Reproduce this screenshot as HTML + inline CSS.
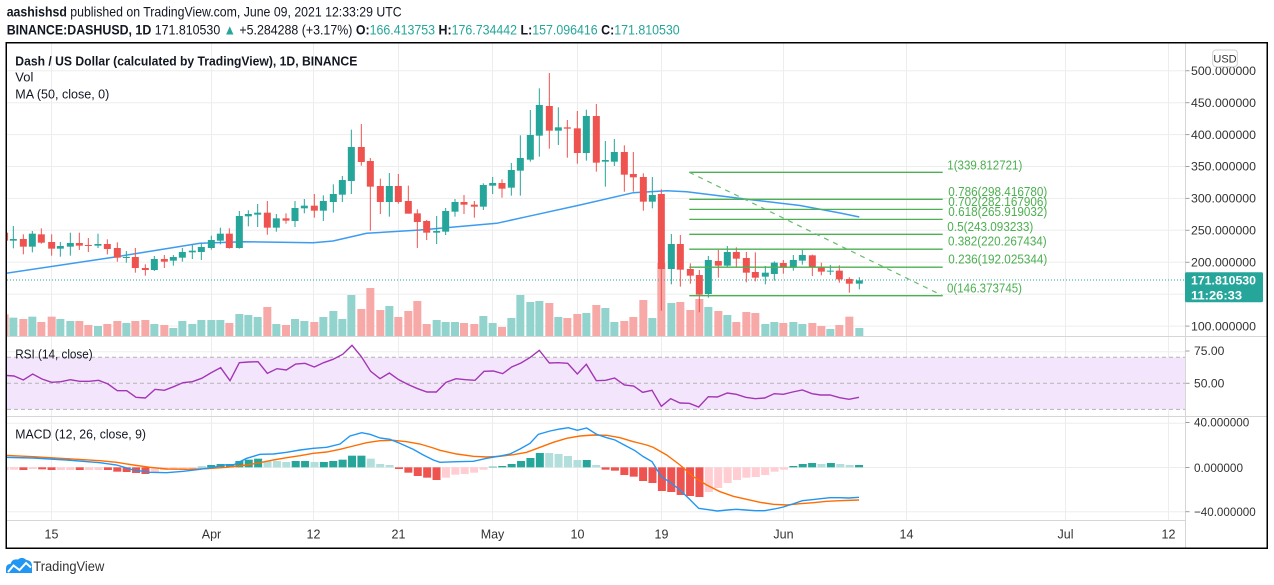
<!DOCTYPE html>
<html><head><meta charset="utf-8"><style>
html,body{margin:0;padding:0;background:#fff;}
svg{display:block;font-family:"Liberation Sans",Arial,sans-serif;}
.t{fill:#26a69a}.r{fill:#ef5350}
.vt{fill:#93d3cd}.vr{fill:#f7a9a8}
.hT{fill:#26a69a}.hL{fill:#b2dfdb}.hR{fill:#ef5350}.hP{fill:#ffcdd2}
.ax{font-size:12px;fill:#333}
.fib{font-size:12.5px;fill:#4caf50}
</style></head><body>
<svg width="1274" height="585" viewBox="0 0 1274 585" xmlns="http://www.w3.org/2000/svg">
<rect width="1274" height="585" fill="#fff"/>
<defs><clipPath id="cp"><rect x="7" y="43" width="1178" height="477.5"/></clipPath></defs>

<!-- header -->
<text x="6.7" y="16.5" font-size="14" fill="#131722" textLength="395" lengthAdjust="spacingAndGlyphs"><tspan font-weight="bold">aashishsd</tspan> published on TradingView.com, June 09, 2021 12:33:29 UTC</text>
<text x="6.7" y="34.5" font-size="14" fill="#131722" textLength="673" lengthAdjust="spacingAndGlyphs"><tspan font-weight="bold">BINANCE:DASHUSD, 1D</tspan> 171.810530 <tspan fill="#26a69a">▲</tspan> +5.284288 (+3.17%) <tspan font-weight="bold">O:</tspan><tspan fill="#26a69a">166.413753</tspan> <tspan font-weight="bold">H:</tspan><tspan fill="#26a69a">176.734442</tspan> <tspan font-weight="bold">L:</tspan><tspan fill="#26a69a">157.096416</tspan> <tspan font-weight="bold">C:</tspan><tspan fill="#26a69a">171.810530</tspan></text>

<!-- grid -->
<g stroke="#ededed" stroke-width="1">
<line x1="7" x2="1185" y1="70.75" y2="70.75"/><line x1="7" x2="1185" y1="102.7" y2="102.7"/><line x1="7" x2="1185" y1="134.6" y2="134.6"/><line x1="7" x2="1185" y1="166.5" y2="166.5"/><line x1="7" x2="1185" y1="198.4" y2="198.4"/><line x1="7" x2="1185" y1="230.3" y2="230.3"/><line x1="7" x2="1185" y1="262.3" y2="262.3"/><line x1="7" x2="1185" y1="294.2" y2="294.2"/><line x1="7" x2="1185" y1="326.1" y2="326.1"/>
<line x1="7" x2="1185" y1="351.7" y2="351.7"/>
<line x1="7" x2="1185" y1="423.3" y2="423.3"/><line x1="7" x2="1185" y1="467.5" y2="467.5"/><line x1="7" x2="1185" y1="511.7" y2="511.7"/>
<line x1="51.5" x2="51.5" y1="43" y2="520.5"/><line x1="211.5" x2="211.5" y1="43" y2="520.5"/><line x1="313.5" x2="313.5" y1="43" y2="520.5"/><line x1="398.5" x2="398.5" y1="43" y2="520.5"/><line x1="492.5" x2="492.5" y1="43" y2="520.5"/><line x1="577.5" x2="577.5" y1="43" y2="520.5"/><line x1="661.5" x2="661.5" y1="43" y2="520.5"/><line x1="783.5" x2="783.5" y1="43" y2="520.5"/><line x1="906.5" x2="906.5" y1="43" y2="520.5"/><line x1="1065.5" x2="1065.5" y1="43" y2="520.5"/><line x1="1168.5" x2="1168.5" y1="43" y2="520.5"/>
</g>

<!-- RSI band -->
<rect x="7" y="357.3" width="1178" height="52.1" fill="#f3e6fc"/>
<g stroke="#b4b4b4" stroke-width="1" stroke-dasharray="4 3">
<line x1="7" x2="1185" y1="357.3" y2="357.3"/><line x1="7" x2="1185" y1="383.3" y2="383.3"/><line x1="7" x2="1185" y1="409.4" y2="409.4"/>
</g>

<g clip-path="url(#cp)">
<!-- volume -->
<g transform="translate(0,40) scale(0.333333)">
<rect class="vr" x="1.8" y="823" width="24" height="65"/><rect class="vt" x="28" y="833" width="24" height="55"/><rect class="vr" x="58" y="837" width="24" height="51"/><rect class="vt" x="85" y="830" width="24" height="58"/><rect class="vr" x="112" y="846" width="24" height="42"/><rect class="vr" x="143" y="830" width="24" height="58"/><rect class="vt" x="169" y="837" width="24" height="51"/><rect class="vt" x="199" y="843" width="24" height="45"/><rect class="vr" x="226" y="843" width="24" height="45"/><rect class="vr" x="253" y="855" width="24" height="33"/><rect class="vt" x="282" y="858" width="24" height="30"/><rect class="vr" x="310" y="852" width="24" height="36"/><rect class="vr" x="340" y="843" width="24" height="45"/><rect class="vt" x="367" y="849" width="24" height="39"/><rect class="vr" x="394" y="843" width="24" height="45"/><rect class="vr" x="424" y="840" width="24" height="48"/><rect class="vt" x="451" y="852" width="24" height="36"/><rect class="vr" x="481" y="855" width="24" height="33"/><rect class="vt" x="508" y="864" width="24" height="24"/><rect class="vt" x="535" y="843" width="24" height="45"/><rect class="vt" x="565" y="852" width="24" height="36"/><rect class="vt" x="592" y="840" width="24" height="48"/><rect class="vt" x="622" y="840" width="24" height="48"/><rect class="vt" x="649" y="840" width="24" height="48"/><rect class="vr" x="676" y="849" width="24" height="39"/><rect class="vt" x="706" y="822" width="24" height="66"/><rect class="vt" x="733" y="825" width="24" height="63"/><rect class="vt" x="761" y="831" width="24" height="57"/><rect class="vr" x="790" y="801" width="24" height="87"/><rect class="vt" x="817" y="852" width="24" height="36"/><rect class="vr" x="846" y="855" width="24" height="33"/><rect class="vt" x="873" y="837" width="24" height="51"/><rect class="vt" x="901" y="843" width="24" height="45"/><rect class="vr" x="931" y="846" width="24" height="42"/><rect class="vt" x="958" y="831" width="24" height="57"/><rect class="vt" x="988" y="813" width="24" height="75"/><rect class="vt" x="1015" y="837" width="24" height="51"/><rect class="vt" x="1042" y="765" width="24" height="123"/><rect class="vr" x="1072" y="807" width="24" height="81"/><rect class="vr" x="1099" y="744" width="24" height="144"/><rect class="vr" x="1129" y="810" width="24" height="78"/><rect class="vt" x="1156" y="798" width="24" height="90"/><rect class="vr" x="1183" y="831" width="24" height="57"/><rect class="vr" x="1213" y="813" width="24" height="75"/><rect class="vr" x="1240" y="783" width="24" height="105"/>
</g>
<g transform="translate(420,40) scale(0.333333)">
<rect class="vr" x="8" y="852" width="24" height="36"/><rect class="vt" x="38" y="840" width="24" height="48"/><rect class="vt" x="65" y="846" width="24" height="42"/><rect class="vt" x="93" y="846" width="24" height="42"/><rect class="vr" x="120" y="849" width="24" height="39"/><rect class="vr" x="151" y="852" width="24" height="36"/><rect class="vt" x="178" y="828" width="24" height="60"/><rect class="vt" x="206" y="849" width="24" height="39"/><rect class="vr" x="234" y="861" width="24" height="27"/><rect class="vt" x="262" y="834" width="24" height="54"/><rect class="vt" x="289" y="765" width="24" height="123"/><rect class="vt" x="319" y="786" width="24" height="102"/><rect class="vt" x="346" y="783" width="24" height="105"/><rect class="vr" x="376" y="789" width="24" height="99"/><rect class="vt" x="403" y="831" width="24" height="57"/><rect class="vr" x="430" y="834" width="24" height="54"/><rect class="vr" x="460" y="822" width="24" height="66"/><rect class="vt" x="487" y="819" width="24" height="69"/><rect class="vr" x="517" y="795" width="24" height="93"/><rect class="vt" x="544" y="804" width="24" height="84"/><rect class="vt" x="571" y="846" width="24" height="42"/><rect class="vr" x="601" y="843" width="24" height="45"/><rect class="vr" x="628" y="831" width="24" height="57"/><rect class="vr" x="658" y="780" width="24" height="108"/><rect class="vt" x="685" y="834" width="24" height="54"/><rect class="vr" x="712" y="669" width="24" height="219"/><rect class="vt" x="742" y="789" width="24" height="99"/><rect class="vr" x="769" y="786" width="24" height="102"/><rect class="vr" x="799" y="810" width="24" height="78"/><rect class="vr" x="826" y="777" width="24" height="111"/><rect class="vt" x="853" y="801" width="24" height="87"/><rect class="vr" x="883" y="813" width="24" height="75"/><rect class="vt" x="910" y="825" width="24" height="63"/><rect class="vr" x="937" y="846" width="24" height="42"/><rect class="vr" x="967" y="816" width="24" height="72"/><rect class="vr" x="994" y="819" width="24" height="69"/><rect class="vt" x="1024" y="852" width="24" height="36"/><rect class="vt" x="1051" y="846" width="24" height="42"/><rect class="vr" x="1078" y="849" width="24" height="39"/><rect class="vt" x="1108" y="846" width="24" height="42"/><rect class="vt" x="1135" y="852" width="24" height="36"/><rect class="vr" x="1165" y="849" width="24" height="39"/><rect class="vr" x="1192" y="858" width="24" height="30"/><rect class="vt" x="1219" y="867" width="24" height="21"/><rect class="vr" x="1246" y="855" width="24" height="33"/><rect class="vr" x="1276" y="830" width="24" height="58"/><rect class="vt" x="1306" y="864" width="24" height="24"/>
</g>

<!-- current price line -->
<line x1="7" x2="1185" y1="280" y2="280" stroke="#26a69a" stroke-width="1" stroke-dasharray="1 2"/>

<!-- MA -->
<polyline fill="none" stroke="#3d9cf0" stroke-width="1.5" points="6,273.3 116.7,256.7 200,243.3 243,241.7 313,242.7 333,241 366.7,233.3 420,230 496.7,223.3 526.7,216.7 580,205 633.3,192.7 666.7,190.7 686.7,191.7 753.3,200 800,205.5 840,213 859.3,217"/>

<!-- candles -->
<g transform="translate(0,40) scale(0.333333)">
<rect class="r" x="12.3" y="570" width="3" height="42"/><rect class="r" x="3.3" y="578" width="21" height="24"/>
<rect class="t" x="38.5" y="558" width="3" height="67"/><rect class="t" x="29.5" y="597" width="21" height="5"/>
<rect class="r" x="68.5" y="583" width="3" height="60"/><rect class="r" x="59.5" y="597" width="21" height="23"/>
<rect class="t" x="95.5" y="573" width="3" height="64"/><rect class="t" x="86.5" y="581" width="21" height="39"/>
<rect class="r" x="122.5" y="565" width="3" height="46"/><rect class="r" x="113.5" y="583" width="21" height="25"/>
<rect class="r" x="153.5" y="583" width="3" height="64"/><rect class="r" x="144.5" y="606" width="21" height="20"/>
<rect class="t" x="179.5" y="606" width="3" height="44"/><rect class="t" x="170.5" y="618" width="21" height="8"/>
<rect class="t" x="209.5" y="578" width="3" height="69"/><rect class="t" x="200.5" y="609" width="21" height="11"/>
<rect class="r" x="236.5" y="578" width="3" height="52"/><rect class="r" x="227.5" y="609" width="21" height="8"/>
<rect class="r" x="263.5" y="594" width="3" height="42"/><rect class="r" x="254.5" y="615" width="21" height="3"/>
<rect class="t" x="292.5" y="581" width="3" height="43"/><rect class="t" x="283.5" y="612" width="21" height="5"/>
<rect class="r" x="320.5" y="598" width="3" height="45"/><rect class="r" x="311.5" y="612" width="21" height="15"/>
<rect class="r" x="350.5" y="607" width="3" height="58"/><rect class="r" x="341.5" y="624" width="21" height="29"/>
<rect class="t" x="377.5" y="633" width="3" height="35"/><rect class="t" x="368.5" y="651" width="21" height="3"/>
<rect class="r" x="404.5" y="624" width="3" height="74"/><rect class="r" x="395.5" y="651" width="21" height="33"/>
<rect class="r" x="434.5" y="673" width="3" height="34"/><rect class="r" x="425.5" y="684" width="21" height="6"/>
<rect class="t" x="461.5" y="648" width="3" height="45"/><rect class="t" x="452.5" y="657" width="21" height="33"/>
<rect class="r" x="491.5" y="645" width="3" height="39"/><rect class="r" x="482.5" y="657" width="21" height="8"/>
<rect class="t" x="518.5" y="645" width="3" height="32"/><rect class="t" x="509.5" y="651" width="21" height="11"/>
<rect class="t" x="545.5" y="624" width="3" height="41"/><rect class="t" x="536.5" y="636" width="21" height="17"/>
<rect class="t" x="575.5" y="614" width="3" height="43"/><rect class="t" x="566.5" y="632" width="21" height="5"/>
<rect class="t" x="602.5" y="610" width="3" height="50"/><rect class="t" x="593.5" y="621" width="21" height="15"/>
<rect class="t" x="632.5" y="587" width="3" height="42"/><rect class="t" x="623.5" y="600" width="21" height="24"/>
<rect class="t" x="659.5" y="563" width="3" height="50"/><rect class="t" x="650.5" y="581" width="21" height="21"/>
<rect class="r" x="686.5" y="565" width="3" height="61"/><rect class="r" x="677.5" y="581" width="21" height="43"/>
<rect class="t" x="716.5" y="513" width="3" height="113"/><rect class="t" x="707.5" y="528" width="21" height="96"/>
<rect class="t" x="743.5" y="511" width="3" height="48"/><rect class="t" x="734.5" y="522" width="21" height="7"/>
<rect class="t" x="771.5" y="492" width="3" height="69"/><rect class="t" x="762.5" y="518" width="21" height="6"/>
<rect class="r" x="800.5" y="483" width="3" height="101"/><rect class="r" x="791.5" y="518" width="21" height="45"/>
<rect class="t" x="827.5" y="522" width="3" height="53"/><rect class="t" x="818.5" y="535" width="21" height="28"/>
<rect class="r" x="856.5" y="520" width="3" height="31"/><rect class="r" x="847.5" y="535" width="21" height="7"/>
<rect class="t" x="883.5" y="483" width="3" height="78"/><rect class="t" x="874.5" y="504" width="21" height="39"/>
<rect class="t" x="911.5" y="477" width="3" height="43"/><rect class="t" x="902.5" y="497" width="21" height="8"/>
<rect class="r" x="941.5" y="462" width="3" height="71"/><rect class="r" x="932.5" y="497" width="21" height="15"/>
<rect class="t" x="968.5" y="466" width="3" height="77"/><rect class="t" x="959.5" y="483" width="21" height="29"/>
<rect class="t" x="998.5" y="433" width="3" height="85"/><rect class="t" x="989.5" y="462" width="21" height="24"/>
<rect class="t" x="1025.5" y="408" width="3" height="78"/><rect class="t" x="1016.5" y="420" width="21" height="44"/>
<rect class="t" x="1052.5" y="269" width="3" height="193"/><rect class="t" x="1043.5" y="321" width="21" height="102"/>
<rect class="r" x="1082.5" y="252" width="3" height="125"/><rect class="r" x="1073.5" y="321" width="21" height="45"/>
<rect class="r" x="1109.5" y="354" width="3" height="218"/><rect class="r" x="1100.5" y="363" width="21" height="77"/>
<rect class="r" x="1139.5" y="416" width="3" height="106"/><rect class="r" x="1130.5" y="438" width="21" height="48"/>
<rect class="t" x="1166.5" y="399" width="3" height="131"/><rect class="t" x="1157.5" y="438" width="21" height="48"/>
<rect class="r" x="1193.5" y="402" width="3" height="89"/><rect class="r" x="1184.5" y="438" width="21" height="48"/>
<rect class="r" x="1223.5" y="437" width="3" height="84"/><rect class="r" x="1214.5" y="483" width="21" height="38"/>
<rect class="r" x="1250.5" y="508" width="3" height="116"/><rect class="r" x="1241.5" y="520" width="21" height="26"/>
</g>
<g transform="translate(420,40) scale(0.333333)">
<rect class="r" x="18.5" y="540" width="3" height="60"/><rect class="r" x="9.5" y="543" width="21" height="35"/>
<rect class="t" x="48.5" y="528" width="3" height="84"/><rect class="t" x="39.5" y="573" width="21" height="5"/>
<rect class="t" x="75.5" y="504" width="3" height="81"/><rect class="t" x="66.5" y="513" width="21" height="62"/>
<rect class="t" x="103.5" y="477" width="3" height="53"/><rect class="t" x="94.5" y="486" width="21" height="29"/>
<rect class="r" x="130.5" y="465" width="3" height="57"/><rect class="r" x="121.5" y="486" width="21" height="8"/>
<rect class="r" x="161.5" y="483" width="3" height="50"/><rect class="r" x="152.5" y="494" width="21" height="6"/>
<rect class="t" x="188.5" y="430" width="3" height="80"/><rect class="t" x="179.5" y="435" width="21" height="65"/>
<rect class="t" x="216.5" y="411" width="3" height="51"/><rect class="t" x="207.5" y="429" width="21" height="8"/>
<rect class="r" x="244.5" y="418" width="3" height="55"/><rect class="r" x="235.5" y="429" width="21" height="17"/>
<rect class="t" x="272.5" y="369" width="3" height="98"/><rect class="t" x="263.5" y="390" width="21" height="53"/>
<rect class="t" x="299.5" y="286" width="3" height="181"/><rect class="t" x="290.5" y="354" width="21" height="38"/>
<rect class="t" x="329.5" y="210" width="3" height="155"/><rect class="t" x="320.5" y="285" width="21" height="74"/>
<rect class="t" x="356.5" y="145" width="3" height="205"/><rect class="t" x="347.5" y="195" width="21" height="92"/>
<rect class="r" x="386.5" y="99" width="3" height="227"/><rect class="r" x="377.5" y="198" width="21" height="74"/>
<rect class="t" x="413.5" y="202" width="3" height="113"/><rect class="t" x="404.5" y="262" width="21" height="10"/>
<rect class="r" x="440.5" y="240" width="3" height="113"/><rect class="r" x="431.5" y="262" width="21" height="4"/>
<rect class="r" x="470.5" y="213" width="3" height="158"/><rect class="r" x="461.5" y="265" width="21" height="74"/>
<rect class="t" x="497.5" y="209" width="3" height="153"/><rect class="t" x="488.5" y="228" width="21" height="111"/>
<rect class="r" x="527.5" y="192" width="3" height="203"/><rect class="r" x="518.5" y="228" width="21" height="140"/>
<rect class="t" x="554.5" y="303" width="3" height="137"/><rect class="t" x="545.5" y="360" width="21" height="5"/>
<rect class="t" x="581.5" y="297" width="3" height="81"/><rect class="t" x="572.5" y="336" width="21" height="29"/>
<rect class="r" x="611.5" y="316" width="3" height="139"/><rect class="r" x="602.5" y="336" width="21" height="68"/>
<rect class="r" x="638.5" y="336" width="3" height="119"/><rect class="r" x="629.5" y="402" width="21" height="10"/>
<rect class="r" x="668.5" y="400" width="3" height="112"/><rect class="r" x="659.5" y="411" width="21" height="74"/>
<rect class="t" x="695.5" y="411" width="3" height="94"/><rect class="t" x="686.5" y="465" width="21" height="20"/>
<rect class="r" x="722.5" y="448" width="3" height="364"/><rect class="r" x="713.5" y="462" width="21" height="225"/>
<rect class="t" x="752.5" y="582" width="3" height="151"/><rect class="t" x="743.5" y="612" width="21" height="75"/>
<rect class="r" x="779.5" y="585" width="3" height="155"/><rect class="r" x="770.5" y="612" width="21" height="77"/>
<rect class="r" x="809.5" y="670" width="3" height="61"/><rect class="r" x="800.5" y="687" width="21" height="20"/>
<rect class="r" x="836.5" y="690" width="3" height="127"/><rect class="r" x="827.5" y="705" width="21" height="59"/>
<rect class="t" x="863.5" y="648" width="3" height="125"/><rect class="t" x="854.5" y="660" width="21" height="102"/>
<rect class="r" x="893.5" y="630" width="3" height="83"/><rect class="r" x="884.5" y="663" width="21" height="14"/>
<rect class="t" x="920.5" y="618" width="3" height="63"/><rect class="t" x="911.5" y="636" width="21" height="41"/>
<rect class="r" x="947.5" y="622" width="3" height="61"/><rect class="r" x="938.5" y="636" width="21" height="20"/>
<rect class="r" x="977.5" y="636" width="3" height="91"/><rect class="r" x="968.5" y="654" width="21" height="44"/>
<rect class="r" x="1004.5" y="637" width="3" height="87"/><rect class="r" x="995.5" y="696" width="21" height="17"/>
<rect class="t" x="1034.5" y="678" width="3" height="55"/><rect class="t" x="1025.5" y="698" width="21" height="12"/>
<rect class="t" x="1061.5" y="664" width="3" height="58"/><rect class="t" x="1052.5" y="668" width="21" height="34"/>
<rect class="r" x="1088.5" y="660" width="3" height="41"/><rect class="r" x="1079.5" y="669" width="21" height="14"/>
<rect class="t" x="1118.5" y="645" width="3" height="47"/><rect class="t" x="1109.5" y="660" width="21" height="23"/>
<rect class="t" x="1145.5" y="629" width="3" height="45"/><rect class="t" x="1136.5" y="645" width="21" height="17"/>
<rect class="r" x="1175.5" y="644" width="3" height="64"/><rect class="r" x="1166.5" y="646" width="21" height="34"/>
<rect class="r" x="1202.5" y="668" width="3" height="38"/><rect class="r" x="1193.5" y="682" width="21" height="13"/>
<rect class="t" x="1229.5" y="675" width="3" height="30"/><rect class="t" x="1220.5" y="692" width="21" height="3"/>
<rect class="r" x="1256.5" y="676" width="3" height="52"/><rect class="r" x="1247.5" y="692" width="21" height="26"/>
<rect class="r" x="1286.5" y="712" width="3" height="46"/><rect class="r" x="1277.5" y="717" width="21" height="14"/>
<rect class="t" x="1316.5" y="712" width="3" height="36"/><rect class="t" x="1307.5" y="721" width="21" height="10"/>
</g>

<!-- fib -->
<g stroke="#4caf50" stroke-width="1.3">
<line x1="689.3" x2="942.7" y1="172.3" y2="172.3"/><line x1="689.3" x2="942.7" y1="199.3" y2="199.3"/><line x1="689.3" x2="942.7" y1="209.4" y2="209.4"/><line x1="689.3" x2="942.7" y1="219.4" y2="219.4"/><line x1="689.3" x2="942.7" y1="234.3" y2="234.3"/><line x1="689.3" x2="942.7" y1="249.2" y2="249.2"/><line x1="689.3" x2="942.7" y1="267.2" y2="267.2"/><line x1="689.3" x2="942.7" y1="295.7" y2="295.7"/>
</g>
<line x1="689.3" y1="172.3" x2="942.7" y2="295.7" stroke="#66bb6a" stroke-width="1.2" stroke-dasharray="5 5"/>
<text class="fib" x="947.3" y="169.5" textLength="75" lengthAdjust="spacingAndGlyphs">1(339.812721)</text>
<text class="fib" x="948.3" y="196" textLength="99" lengthAdjust="spacingAndGlyphs">0.786(298.416780)</text>
<text class="fib" x="948.3" y="206" textLength="99" lengthAdjust="spacingAndGlyphs">0.702(282.167906)</text>
<text class="fib" x="948.3" y="216" textLength="99" lengthAdjust="spacingAndGlyphs">0.618(265.919032)</text>
<text class="fib" x="947.3" y="231" textLength="86" lengthAdjust="spacingAndGlyphs">0.5(243.093233)</text>
<text class="fib" x="948" y="245.5" textLength="98.7" lengthAdjust="spacingAndGlyphs">0.382(220.267434)</text>
<text class="fib" x="948.3" y="263.5" textLength="99" lengthAdjust="spacingAndGlyphs">0.236(192.025344)</text>
<text class="fib" x="947" y="292.5" textLength="75" lengthAdjust="spacingAndGlyphs">0(146.373745)</text>

<!-- MACD histogram -->
<g transform="translate(0,330) scale(0.333333)">
<rect class="hP" x="1.8" y="412" width="24" height="8"/><rect class="hP" x="30" y="412" width="24" height="7"/><rect class="hR" x="58.2" y="412" width="24" height="8"/><rect class="hP" x="86.3" y="412" width="24" height="5"/><rect class="hR" x="114.5" y="412" width="24" height="6"/><rect class="hR" x="142.7" y="412" width="24" height="8"/><rect class="hP" x="170.9" y="412" width="24" height="8"/><rect class="hP" x="199" y="412" width="24" height="8"/><rect class="hR" x="227.2" y="412" width="24" height="8"/><rect class="hP" x="255.4" y="412" width="24" height="8"/><rect class="hP" x="283.5" y="412" width="24" height="8"/><rect class="hR" x="311.7" y="412" width="24" height="8"/><rect class="hR" x="339.9" y="412" width="24" height="13"/><rect class="hR" x="368" y="412" width="24" height="14"/><rect class="hR" x="396.2" y="412" width="24" height="17"/><rect class="hR" x="424.4" y="412" width="24" height="20"/><rect class="hP" x="452.6" y="412" width="24" height="14"/><rect class="hP" x="480.7" y="412" width="24" height="8"/><rect class="hP" x="508.9" y="412" width="24" height="6"/><rect class="hP" x="537.1" y="412" width="24" height="5"/><rect class="hP" x="565.2" y="412" width="24" height="4"/>
<rect class="hT" x="593.4" y="410" width="24" height="2"/><rect class="hT" x="621.6" y="405" width="24" height="7"/><rect class="hT" x="649.7" y="402" width="24" height="10"/><rect class="hT" x="677.9" y="402" width="24" height="10"/><rect class="hT" x="706.1" y="393" width="24" height="19"/><rect class="hT" x="734.2" y="389" width="24" height="23"/><rect class="hT" x="762.4" y="386" width="24" height="26"/><rect class="hL" x="790.6" y="393" width="24" height="19"/><rect class="hL" x="818.8" y="393" width="24" height="19"/><rect class="hL" x="846.9" y="396" width="24" height="16"/><rect class="hT" x="875.1" y="393" width="24" height="19"/><rect class="hT" x="903.3" y="393" width="24" height="19"/><rect class="hL" x="931.4" y="396" width="24" height="16"/><rect class="hT" x="959.6" y="396" width="24" height="16"/><rect class="hT" x="987.8" y="393" width="24" height="19"/><rect class="hT" x="1015.9" y="389" width="24" height="23"/><rect class="hT" x="1044.1" y="377" width="24" height="35"/><rect class="hT" x="1072.3" y="377" width="24" height="35"/><rect class="hL" x="1100.4" y="386" width="24" height="26"/><rect class="hL" x="1128.6" y="402" width="24" height="10"/><rect class="hL" x="1156.8" y="405" width="24" height="7"/>
<rect class="hR" x="1184.9" y="412" width="24" height="5"/><rect class="hR" x="1213.1" y="412" width="24" height="16"/><rect class="hR" x="1241.3" y="412" width="24" height="26"/><rect class="hR" x="1269.5" y="412" width="24" height="31"/><rect class="hR" x="1297.6" y="412" width="24" height="38"/><rect class="hP" x="1325.8" y="412" width="24" height="31"/><rect class="hP" x="1354" y="412" width="24" height="22"/><rect class="hP" x="1382.1" y="412" width="24" height="20"/><rect class="hP" x="1410.3" y="412" width="24" height="16"/><rect class="hP" x="1438.5" y="412" width="24" height="7"/>
<rect class="hT" x="1466.6" y="410" width="24" height="2"/><rect class="hT" x="1494.8" y="408" width="24" height="4"/><rect class="hT" x="1523" y="402" width="24" height="10"/><rect class="hT" x="1551.1" y="393" width="24" height="19"/><rect class="hT" x="1579.3" y="384" width="24" height="28"/><rect class="hT" x="1607.5" y="369" width="24" height="43"/><rect class="hL" x="1635.6" y="369" width="24" height="43"/><rect class="hL" x="1663.8" y="372" width="24" height="40"/><rect class="hL" x="1692" y="378" width="24" height="34"/><rect class="hL" x="1720.2" y="390" width="24" height="22"/><rect class="hT" x="1748.3" y="390" width="24" height="22"/><rect class="hL" x="1776.5" y="405" width="24" height="7"/>
<rect class="hR" x="1804.7" y="412" width="24" height="7"/><rect class="hR" x="1832.8" y="412" width="24" height="10"/><rect class="hR" x="1861" y="412" width="24" height="23"/><rect class="hR" x="1889.2" y="412" width="24" height="28"/><rect class="hR" x="1917.3" y="412" width="24" height="41"/><rect class="hR" x="1945.5" y="412" width="24" height="47"/><rect class="hR" x="1973.7" y="412" width="24" height="71"/><rect class="hR" x="2001.8" y="412" width="24" height="74"/><rect class="hR" x="2030" y="412" width="24" height="83"/><rect class="hR" x="2058.2" y="412" width="24" height="86"/><rect class="hR" x="2086.3" y="412" width="24" height="89"/>
<rect class="hP" x="2114.5" y="412" width="24" height="74"/><rect class="hP" x="2142.7" y="412" width="24" height="62"/><rect class="hP" x="2170.9" y="412" width="24" height="47"/><rect class="hP" x="2199" y="412" width="24" height="38"/><rect class="hP" x="2227.2" y="412" width="24" height="31"/><rect class="hP" x="2255.4" y="412" width="24" height="29"/><rect class="hP" x="2283.5" y="412" width="24" height="23"/><rect class="hP" x="2311.7" y="412" width="24" height="13"/><rect class="hP" x="2339.9" y="412" width="24" height="7"/>
<rect class="hT" x="2368" y="408" width="24" height="4"/><rect class="hT" x="2396.2" y="402" width="24" height="10"/><rect class="hT" x="2424.4" y="399" width="24" height="13"/><rect class="hL" x="2452.5" y="402" width="24" height="10"/><rect class="hT" x="2480.7" y="399" width="24" height="13"/><rect class="hL" x="2508.9" y="402" width="24" height="10"/><rect class="hL" x="2537" y="405" width="24" height="7"/><rect class="hT" x="2565.2" y="405" width="24" height="7"/>

<!-- RSI -->
<polyline fill="none" stroke="#a336b5" stroke-width="1.4" vector-effect="non-scaling-stroke" points="14,136 42,138 70,150 98,132 126,147 155,157 183,155 211,149 239,154 267,154 296,151 324,162 352,182 380,182 408,202 436,204 465,178 493,181 521,170 549,158 577,155 605,145 634,128 662,113 690,152 718,98 746,96 774,95 802,130 831,116 859,120 887,102 915,100 943,111 971,98 999,88 1028,73 1056,46 1084,80 1112,124 1140,146 1168,129 1196,149 1225,164 1253,176 1281,186 1309,186 1338,157 1368,146 1397,149 1425,151 1452,124 1480,123 1508,131 1535,111 1563,99 1591,82 1618,61 1648,99 1675,98 1703,100 1732,132 1759,103 1789,152 1817,151 1844,144 1873,165 1901,168 1928,187 1956,181 1984,229 2012,206 2040,219 2068,220 2096,231 2125,200 2152,201 2182,189 2209,193 2237,202 2266,206 2294,204 2323,191 2350,193 2378,186 2407,180 2436,191 2462,195 2490,195 2519,203 2547,208 2577,202"/>

<!-- MACD lines -->
<polyline fill="none" stroke="#ff6d00" stroke-width="1.4" vector-effect="non-scaling-stroke" points="14,376 100,380 200,386 300,392 350,397 400,405 450,412 500,417 560,418 620,416 680,412 740,405 780,398 820,390 860,383 900,377 940,370 980,366 1020,358 1060,348 1100,338 1140,332 1180,331 1220,335 1260,342 1300,354 1320,361 1370,372 1420,379 1460,381 1500,379 1540,374 1580,367 1620,352 1660,337 1700,325 1740,318 1780,315 1820,316 1860,323 1900,335 1940,345 1960,352 2000,375 2040,405 2080,440 2120,465 2160,485 2200,499 2240,508 2280,517 2320,523 2360,525 2400,521 2440,518 2480,514 2520,512 2577,510"/>
<polyline fill="none" stroke="#2196f3" stroke-width="1.4" vector-effect="non-scaling-stroke" points="14,382 100,384 200,390 300,398 350,405 400,420 450,427 500,428 550,424 600,418 640,412 680,404 700,405 740,385 780,373 820,372 860,367 900,360 940,355 980,352 1020,342 1050,318 1085,308 1110,313 1140,324 1170,328 1200,340 1240,358 1270,375 1300,390 1320,397 1370,395 1420,394 1460,385 1500,378 1530,372 1560,357 1590,340 1615,313 1650,303 1680,297 1705,293 1732,301 1760,294 1790,313 1820,323 1845,330 1875,346 1905,362 1930,380 1956,395 1984,440 2012,458 2040,480 2068,507 2096,535 2125,539 2152,543 2182,540 2209,538 2237,540 2266,542 2294,542 2323,537 2350,531 2378,522 2407,512 2436,509 2462,506 2490,503 2519,503 2547,504 2577,502"/>
</g>
</g>

<!-- pane legends -->
<text x="15.3" y="65.3" font-size="13" font-weight="bold" fill="#131722" textLength="342" lengthAdjust="spacingAndGlyphs">Dash / US Dollar (calculated by TradingView), 1D, BINANCE</text>
<text x="15.3" y="81.7" font-size="13" fill="#131722">Vol</text>
<text x="15.3" y="98.7" font-size="13" fill="#131722" textLength="94" lengthAdjust="spacingAndGlyphs">MA (50, close, 0)</text>
<text x="15.3" y="358.7" font-size="13" fill="#131722" textLength="77.4" lengthAdjust="spacingAndGlyphs">RSI (14, close)</text>
<text x="15.3" y="438.7" font-size="13" fill="#131722" textLength="130.7" lengthAdjust="spacingAndGlyphs">MACD (12, 26, close, 9)</text>

<!-- separators -->
<g stroke="#d6d6d6" stroke-width="1">
<line x1="6" x2="1267" y1="336.5" y2="336.5"/>
<line x1="6" x2="1267" y1="416.5" y2="416.5"/>
<line x1="6" x2="1185.5" y1="520.5" y2="520.5"/>
<line x1="1185.5" x2="1185.5" y1="43" y2="548"/>
</g>

<!-- axis ticks -->
<g stroke="#9e9e9e" stroke-width="1">
<line x1="1185.5" x2="1189.5" y1="70.75" y2="70.75"/><line x1="1185.5" x2="1189.5" y1="102.7" y2="102.7"/><line x1="1185.5" x2="1189.5" y1="134.6" y2="134.6"/><line x1="1185.5" x2="1189.5" y1="166.5" y2="166.5"/><line x1="1185.5" x2="1189.5" y1="198.4" y2="198.4"/><line x1="1185.5" x2="1189.5" y1="230.3" y2="230.3"/><line x1="1185.5" x2="1189.5" y1="262.3" y2="262.3"/><line x1="1185.5" x2="1189.5" y1="326.1" y2="326.1"/>
<line x1="1185.5" x2="1189.5" y1="351" y2="351"/><line x1="1185.5" x2="1189.5" y1="383.3" y2="383.3"/>
<line x1="1185.5" x2="1189.5" y1="422.5" y2="422.5"/><line x1="1185.5" x2="1189.5" y1="467.5" y2="467.5"/><line x1="1185.5" x2="1189.5" y1="511.7" y2="511.7"/>
</g>

<!-- price axis labels -->
<text class="ax" x="1191" y="75" textLength="65" lengthAdjust="spacingAndGlyphs">500.000000</text>
<text class="ax" x="1191" y="106.9" textLength="65" lengthAdjust="spacingAndGlyphs">450.000000</text>
<text class="ax" x="1191" y="138.8" textLength="65" lengthAdjust="spacingAndGlyphs">400.000000</text>
<text class="ax" x="1191" y="170.7" textLength="65" lengthAdjust="spacingAndGlyphs">350.000000</text>
<text class="ax" x="1191" y="202.6" textLength="65" lengthAdjust="spacingAndGlyphs">300.000000</text>
<text class="ax" x="1191" y="234.5" textLength="65" lengthAdjust="spacingAndGlyphs">250.000000</text>
<text class="ax" x="1191" y="266.5" textLength="65" lengthAdjust="spacingAndGlyphs">200.000000</text>
<text class="ax" x="1191" y="330.3" textLength="65" lengthAdjust="spacingAndGlyphs">100.000000</text>
<text class="ax" x="1194" y="355" textLength="30.3" lengthAdjust="spacingAndGlyphs">75.00</text>
<text class="ax" x="1194" y="387.5" textLength="30.3" lengthAdjust="spacingAndGlyphs">50.00</text>
<text class="ax" x="1194" y="426.5" textLength="55.3" lengthAdjust="spacingAndGlyphs">40.000000</text>
<text class="ax" x="1194" y="472" textLength="49" lengthAdjust="spacingAndGlyphs">0.000000</text>
<text class="ax" x="1194" y="516" textLength="61.7" lengthAdjust="spacingAndGlyphs">−40.000000</text>

<!-- USD box -->
<rect x="1212.7" y="50" width="24.6" height="16.7" rx="3" fill="#fff" stroke="#d0d0d0" stroke-width="1"/>
<text x="1225" y="62.3" font-size="11" fill="#333" text-anchor="middle">USD</text>

<!-- price box -->
<rect x="1185" y="272.3" width="78" height="30" rx="1.5" fill="#26a69a"/>
<text x="1191" y="284.7" font-size="12" font-weight="bold" fill="#fff" textLength="65" lengthAdjust="spacingAndGlyphs">171.810530</text>
<text x="1191" y="299.5" font-size="12" font-weight="bold" fill="#fff" textLength="51" lengthAdjust="spacingAndGlyphs">11:26:33</text>

<!-- time axis -->
<g font-size="12.5" fill="#333" text-anchor="middle">
<text x="51.5" y="538.3">15</text><text x="211.5" y="538.3">Apr</text><text x="313.5" y="538.3">12</text><text x="398.5" y="538.3">21</text><text x="492.5" y="538.3">May</text><text x="577.5" y="538.3">10</text><text x="661.5" y="538.3">19</text><text x="783.5" y="538.3">Jun</text><text x="906.5" y="538.3">14</text><text x="1065.5" y="538.3">Jul</text><text x="1168.5" y="538.3">12</text>
</g>

<!-- frame -->
<rect x="6.25" y="42.75" width="1261" height="505.5" fill="none" stroke="#000" stroke-width="1.5"/>

<!-- logo -->
<path d="M6,573 L6,568.5 Q6,564 10.5,564 Q12,558.5 18,559.5 Q22,556 26.5,560 Q32,560.5 32,566.5 L32,573 Z" fill="#2196f3"/>
<polyline points="8,572 13.5,565.5 19.5,570 26,563 31,567.5" fill="none" stroke="#fff" stroke-width="2"/>
<text x="33.3" y="571" font-size="14" fill="#333" textLength="71" lengthAdjust="spacingAndGlyphs">TradingView</text>
</svg>
</body></html>
